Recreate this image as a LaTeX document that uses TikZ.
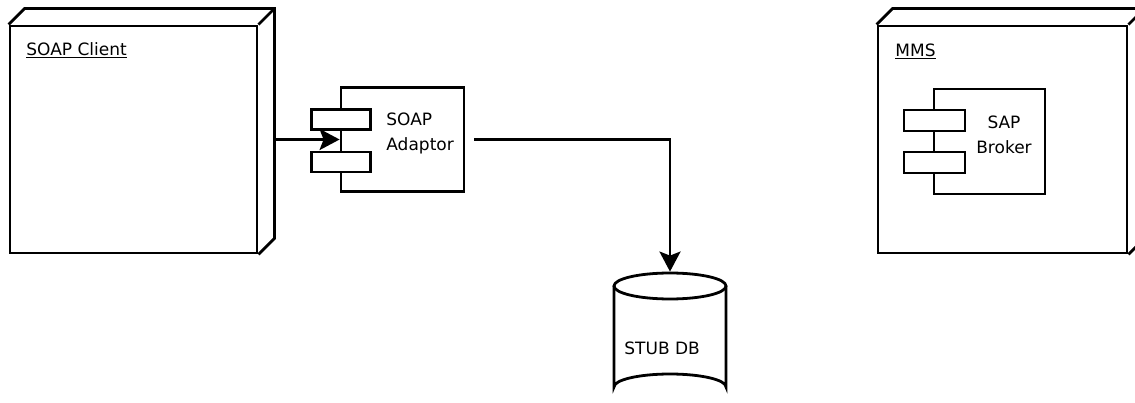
\documentclass[tikz,border=0pt]{standalone}
\usepackage{fontspec}
\setmainfont{DejaVu Sans}
\usetikzlibrary{arrows.meta}

\begin{document}
\begin{tikzpicture}[x=1pt, y=-1pt, line width=2.8pt,
    every node/.style={font=\fontsize{17}{25}\selectfont, inner sep=0},
    devbox/.style={draw, rectangle, minimum height=227},
    compbox/.style={draw, rectangle},
    tabbox/.style={draw, fill=white, rectangle, minimum width=59, minimum height=20},
    wire/.style={-{Stealth[length=20pt, width=21pt, inset=4pt]}}]
        \useasboundingbox (0,0) rectangle (1135,403);

        % SOAP Client node
        \node[devbox, minimum width=247] (client) at (133.5,139.5) {};
        \draw (client.north west) -- ++(16,-16) -- ([shift={(16,-16)}]client.north east)
              -- ([shift={(16,-16)}]client.south east) -- (client.south east);
        \draw (client.north east) -- ++(16,-16);
        \node[anchor=base west] (clientlabel) at (25,56) {\underline{SOAP Client}};

        % SOAP Adaptor component
        \node[compbox, minimum width=123, minimum height=104] (adaptor) at (402.5,139.5) {};
        \node[tabbox] (adaptortop) at (341,119.5) {};
        \node[tabbox] (adaptorbot) at (341,162) {};
        \node[anchor=west, align=left] (adaptorlabel) at (385,133) {SOAP\\Adaptor};

        % MMS node
        \node[devbox, minimum width=249] (mms) at (1002.5,139.5) {};
        \draw (mms.north west) -- ++(16,-16) -- ([shift={(16,-16)}]mms.north east)
              -- ([shift={(16,-16)}]mms.south east) -- (mms.south east);
        \draw (mms.north east) -- ++(16,-16);
        \node[anchor=base west] (mmslabel) at (894,57) {\underline{MMS}};

        % SAP Broker component
        \node[compbox, minimum width=111, minimum height=105] (broker) at (989.5,141.5) {};
        \node[tabbox, minimum width=61, minimum height=21] (brokertop) at (934.5,120.5) {};
        \node[tabbox, minimum width=61, minimum height=21] (brokerbot) at (934.5,162.5) {};
        \node[align=center] (brokerlabel) at (1004,135) {SAP\\Broker};

        % STUB DB cylinder
        \node[minimum width=112, minimum height=128] (db) at (670,337) {};
        \draw (670,286) ellipse [x radius=56, y radius=13];
        \draw (614,286) -- (614,387) arc[start angle=180, end angle=360, x radius=56, y radius=13] -- (726,286);
        \node[anchor=base west] (dblabel) at (623,354) {STUB DB};

        % Connectors
        \draw[wire] ([xshift=16]client.east) -- (adaptor.west);
        \draw[wire, shorten <=9pt] (adaptor.east) -| (db.north);
    \end{tikzpicture}
\end{document}
